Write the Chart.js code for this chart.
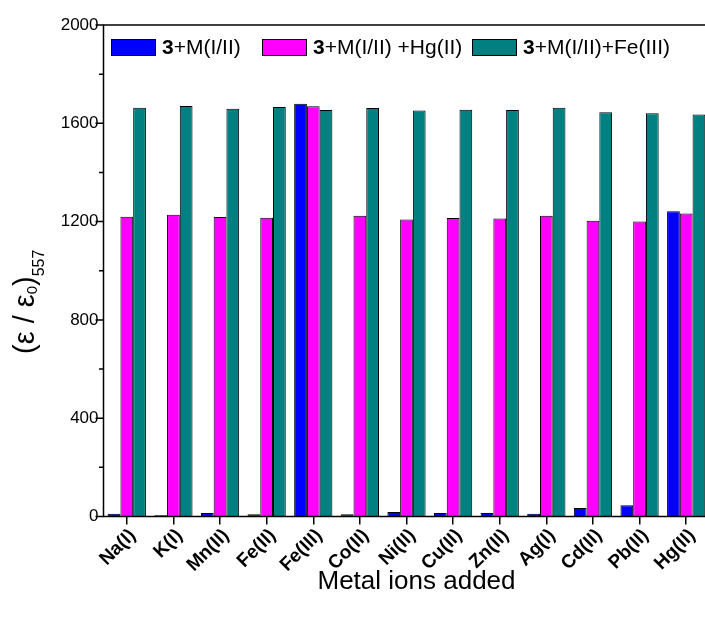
<!DOCTYPE html>
<html>
<head>
<meta charset="utf-8">
<script src="https://cdn.jsdelivr.net/npm/chart.js@4"></script>
<style>
  html, body { margin: 0; padding: 0; background: #fff; overflow: hidden; }
  #wrap { width: 705px; height: 619px; overflow: hidden; position: relative; }
  #wrap canvas { position: absolute; left: 0; top: 0; }
</style>
</head>
<body>
<div id="wrap"><canvas id="c" width="720" height="619"></canvas></div>
<script>
// Metal ions on the x axis
const metalIons = ['Na(I)', 'K(I)', 'Mn(II)', 'Fe(II)', 'Fe(III)', 'Co(II)', 'Ni(II)',
                   'Cu(II)', 'Zn(II)', 'Ag(I)', 'Cd(II)', 'Pb(II)', 'Hg(II)'];
// (ε / ε0) at 557 nm for each series
const withMetal   = [11, 5, 14, 9, 1680, 9, 18, 14, 14, 11, 35, 46, 1242];
const withMetalHg = [1220, 1228, 1219, 1216, 1669, 1224, 1209, 1215, 1213, 1224, 1203, 1200, 1233];
const withMetalFe = [1663, 1670, 1659, 1666, 1654, 1662, 1652, 1655, 1654, 1663, 1645, 1641, 1636];
// Series names: bold compound number followed by the plain suffix
const compoundLabel = '3';
const seriesSuffix = ['+M(I/II)', '+M(I/II) +Hg(II)', '+M(I/II)+Fe(III)'];
const seriesColors = ['#0000FF', '#FF00FF', '#008080'];
// y axis
const yMin = 0, yMax = 2000, yMajorStep = 400, yMinorStep = 200;
const xTitle = 'Metal ions added';

const FONT = "Arial, 'Liberation Sans', Helvetica, sans-serif";

// Frame, y tick marks, legend and axis titles
const decorations = {
  id: 'decorations',
  afterDraw(chart) {
    const ctx = chart.ctx;
    const a = chart.chartArea;
    const y = chart.scales.y;
    ctx.save();
    ctx.strokeStyle = '#000';
    ctx.lineWidth = 1.5;
    ctx.beginPath();
    ctx.moveTo(a.left, a.top); ctx.lineTo(a.right, a.top);
    ctx.lineTo(a.right, a.bottom); ctx.lineTo(a.left, a.bottom);
    ctx.closePath();
    ctx.stroke();

    // y ticks: long at labelled values, short in between
    ctx.beginPath();
    for (let v = yMin; v <= yMax; v += yMinorStep) {
      const py = y.getPixelForValue(v);
      const len = (v % yMajorStep === 0) ? 8 : 4.5;
      ctx.moveTo(a.left - len, py);
      ctx.lineTo(a.left, py);
    }
    ctx.stroke();

    // legend
    const boxOffsets = [7.5, 158.5, 368.5];
    const boxW = 45, boxH = 17, boxTop = a.top + 14;
    ctx.textBaseline = 'middle';
    ctx.textAlign = 'left';
    ctx.lineWidth = 1;
    seriesSuffix.forEach((s, i) => {
      const bx = a.left + boxOffsets[i];
      ctx.fillStyle = seriesColors[i];
      ctx.fillRect(bx, boxTop, boxW, boxH);
      ctx.strokeStyle = '#000';
      ctx.strokeRect(bx + 0.5, boxTop + 0.5, boxW - 1, boxH - 1);
      let tx = bx + boxW + 6;
      const ty = boxTop + boxH / 2 + 1;
      ctx.fillStyle = '#000';
      ctx.font = 'bold 21px ' + FONT;
      ctx.fillText(compoundLabel, tx, ty);
      tx += ctx.measureText(compoundLabel).width;
      ctx.font = '21px ' + FONT;
      ctx.fillText(s, tx, ty);
    });

    // y-axis title: (ε / ε0)557
    ctx.translate(34, 354);
    ctx.rotate(-Math.PI / 2);
    ctx.textBaseline = 'alphabetic';
    ctx.fillStyle = '#000';
    let x = 0;
    const part = (txt, size, dy) => {
      ctx.font = size + 'px ' + FONT;
      ctx.fillText(txt, x, dy);
      x += ctx.measureText(txt).width;
    };
    part('(\u03B5 / \u03B5', 29, 0);
    part('0', 15, 3);
    part(')', 29, 0);
    part('557', 16, 10);
    ctx.restore();

    // x-axis title
    ctx.save();
    ctx.font = '26px ' + FONT;
    ctx.fillStyle = '#000';
    ctx.textAlign = 'center';
    ctx.textBaseline = 'middle';
    ctx.fillText(xTitle, (a.left + a.right) / 2 + 10, 582);
    ctx.restore();
  }
};

const datasets = [withMetal, withMetalHg, withMetalFe].map((d, i) => ({
  label: compoundLabel + seriesSuffix[i],
  data: d,
  backgroundColor: seriesColors[i],
  borderColor: '#000',
  borderWidth: 1,
  categoryPercentage: 0.82,
  barPercentage: 1.0
}));

new Chart(document.getElementById('c'), {
  type: 'bar',
  data: { labels: metalIons, datasets },
  options: {
    responsive: false,
    animation: false,
    devicePixelRatio: 1,
    layout: { padding: { top: 25, right: 10.5, left: 0, bottom: 0 } },
    plugins: { legend: { display: false }, tooltip: { enabled: false } },
    scales: {
      x: {
        grid: { display: true, drawOnChartArea: false, drawTicks: true, tickLength: 8,
                color: '#000', lineWidth: 1.5, offset: false },
        border: { display: false },
        ticks: { autoSkip: false, minRotation: 45, maxRotation: 45, padding: 0, labelOffset: 6,
                 color: '#000', font: { family: FONT, size: 19, weight: 'bold' } },
        afterFit(scale) { scale.height = 102.5; }
      },
      y: {
        min: yMin, max: yMax,
        grid: { display: false, drawTicks: false },
        border: { display: false },
        ticks: { stepSize: yMajorStep, padding: 5, color: '#000',
                 font: { family: FONT, size: 17 },
                 callback: (v) => String(v) },
        afterFit(scale) { scale.width = 103.5; }
      }
    }
  },
  plugins: [decorations]
});
</script>
</body>
</html>
